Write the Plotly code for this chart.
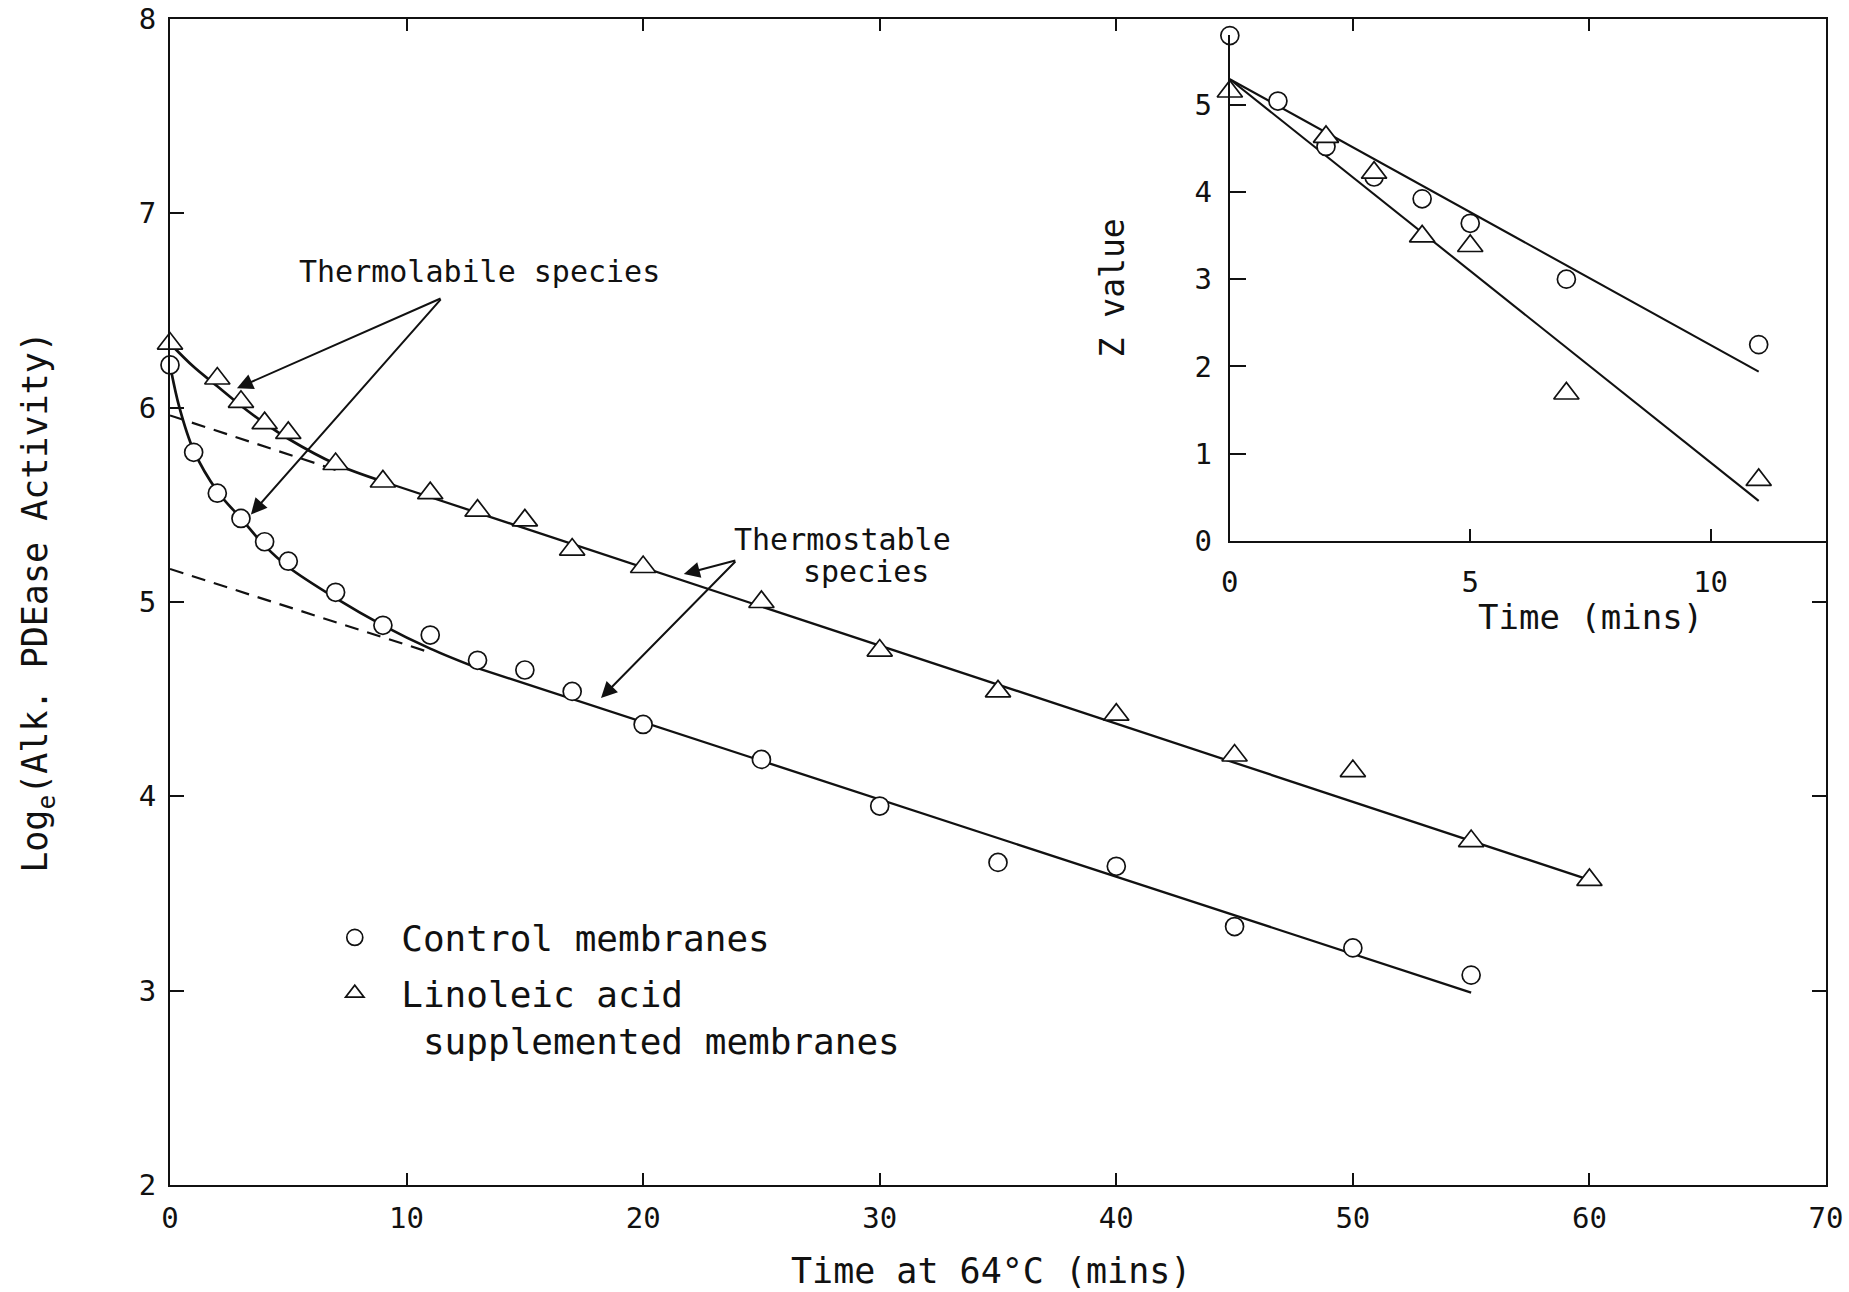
import plotly.graph_objects as go

# ---------------- data ----------------
# main panel: Loge(Alk. PDEase activity) vs time at 64 C
ctl_t = [0, 1, 2, 3, 4, 5, 7, 9, 11, 13, 15, 17, 20, 25, 30, 35, 40, 45, 50, 55]
ctl_y = [6.22, 5.77, 5.56, 5.43, 5.31, 5.21, 5.05, 4.88, 4.83, 4.70, 4.65, 4.54,
         4.37, 4.19, 3.95, 3.66, 3.64, 3.33, 3.22, 3.08]
lin_t = [0, 2, 3, 4, 5, 7, 9, 11, 13, 15, 17, 20, 25, 30, 35, 40, 45, 50, 55, 60]
lin_y = [6.33, 6.15, 6.03, 5.92, 5.87, 5.71, 5.62, 5.56, 5.47, 5.42, 5.27, 5.18,
         5.00, 4.75, 4.54, 4.42, 4.21, 4.13, 3.77, 3.57]

# fitted curves (total activity, early phase)
ctl_curve_t = [0, 0.4, 1, 2, 3, 4, 5, 7, 9, 11, 13]
ctl_curve_y = [6.22, 6.00, 5.78, 5.57, 5.43, 5.29, 5.18, 5.02, 4.88, 4.76, 4.66]
lin_curve_t = [0, 1, 2, 3, 4, 5, 7, 9]
lin_curve_y = [6.33, 6.21, 6.11, 6.01, 5.92, 5.84, 5.71, 5.62]

# thermostable straight lines (solid part) and back-extrapolation (dashed)
ctl_line_t = [13, 55]
ctl_line_y = [4.66, 2.99]
ctl_dash_t = [0, 11]
ctl_dash_y = [5.17, 4.74]
lin_line_t = [9, 60]
lin_line_y = [5.62, 3.57]
lin_dash_t = [0, 7]
lin_dash_y = [5.96, 5.68]

# inset: Z value vs time
ins_ctl_t = [0, 1, 2, 3, 4, 5, 7, 11]
ins_ctl_y = [5.79, 5.04, 4.52, 4.17, 3.92, 3.64, 3.00, 2.25]
ins_lin_t = [0, 2, 3, 4, 5, 7, 11]
ins_lin_y = [5.15, 4.63, 4.22, 3.49, 3.38, 1.69, 0.70]
ins_ctl_fit_t = [0, 11]
ins_ctl_fit_y = [5.29, 1.94]
ins_lin_fit_t = [0, 11]
ins_lin_fit_y = [5.29, 0.46]

main_xticks = [0, 10, 20, 30, 40, 50, 60, 70]
main_yticks = [2, 3, 4, 5, 6, 7, 8]
ins_xticks = [0, 5, 10]
ins_yticks = [0, 1, 2, 3, 4, 5]

FONT = "DejaVu Sans Mono"
BLACK = "#111111"

fig = go.Figure()

def line(x, y, xa="x", ya="y", dash="solid", width=2.3, shape="linear"):
    fig.add_trace(go.Scatter(x=x, y=y, mode="lines", xaxis=xa, yaxis=ya,
                             line=dict(color=BLACK, width=width, dash=dash, shape=shape),
                             showlegend=False, hoverinfo="skip"))

# main panel lines
line(ctl_dash_t, ctl_dash_y, dash="14px,9px", width=2.2)
line(lin_dash_t, lin_dash_y, dash="14px,9px", width=2.2)
line(ctl_curve_t, ctl_curve_y, width=2.7, shape="spline")
line(lin_curve_t, lin_curve_y, width=2.7, shape="spline")
line(ctl_line_t, ctl_line_y)
line(lin_line_t, lin_line_y)

circle_marker = dict(symbol="circle", size=18, color="white", line=dict(color=BLACK, width=1.7))
tri_marker = dict(symbol="triangle-up", size=22, color="white", line=dict(color=BLACK, width=1.7))

fig.add_trace(go.Scatter(x=ctl_t, y=ctl_y, mode="markers", marker=circle_marker,
                         name="Control membranes", legendgroup="ctl", cliponaxis=False))
fig.add_trace(go.Scatter(x=lin_t, y=lin_y, mode="markers", marker=tri_marker,
                         name="Linoleic acid<br>\u00a0supplemented membranes",
                         legendgroup="lin", cliponaxis=False))

# inset
line(ins_ctl_fit_t, ins_ctl_fit_y, xa="x2", ya="y2", width=2.1)
line(ins_lin_fit_t, ins_lin_fit_y, xa="x2", ya="y2", width=2.1)
fig.add_trace(go.Scatter(x=ins_ctl_t, y=ins_ctl_y, mode="markers", xaxis="x2", yaxis="y2",
                         marker=circle_marker, showlegend=False, cliponaxis=False))
fig.add_trace(go.Scatter(x=ins_lin_t, y=ins_lin_y, mode="markers", xaxis="x2", yaxis="y2",
                         marker=tri_marker, showlegend=False, cliponaxis=False))

axis_common = dict(showgrid=False, zeroline=False, showline=True, linecolor=BLACK,
                   linewidth=2, ticks="inside", tickcolor=BLACK, tickwidth=2,
                   automargin=False, ticklabeloverflow="allow",
                   tickfont=dict(family=FONT, size=29, color=BLACK))

fig.update_layout(
    width=1849, height=1292,
    margin=dict(l=170, r=23, t=19, b=107),
    paper_bgcolor="white", plot_bgcolor="white",
    font=dict(family=FONT, color=BLACK),
    xaxis=dict(**axis_common, range=[0, 70], tickvals=main_xticks, ticklen=12,
               mirror="ticks", ticklabelstandoff=6),
    yaxis=dict(**axis_common, range=[2, 8], tickvals=main_yticks, ticklen=14,
               mirror="ticks", ticklabelstandoff=6,
               title=dict(text="Log<sub>e</sub>(Alk. PDEase Activity)",
                          font=dict(family=FONT, size=35), standoff=80)),
    xaxis2=dict(**axis_common, domain=[0.640, 1.0], anchor="y2", range=[0, 12.4],
                tickvals=ins_xticks, ticklen=12, ticklabelstandoff=14),
    yaxis2=dict(**axis_common, domain=[0.5523, 0.9865], anchor="x2", range=[0, 5.8],
                tickvals=ins_yticks, ticklen=16, ticklabelstandoff=10,
                title=dict(text="Z value", font=dict(family=FONT, size=33), standoff=60)),
    legend=dict(x=0.0835, y=0.238, xanchor="left", yanchor="top", valign="top",
                font=dict(family=FONT, size=36, color=BLACK), traceorder="grouped",
                bgcolor="rgba(0,0,0,0)", tracegroupgap=6, itemwidth=83),
)

# main x title
fig.add_annotation(text="Time at 64°C (mins)", xref="paper", yref="paper",
                   x=0.496, y=-0.0738, xanchor="center", yanchor="middle",
                   showarrow=False, font=dict(family=FONT, size=35, color=BLACK))

# inset x title
fig.add_annotation(text="Time (mins)", xref="x2", yref="paper", x=7.5, y=0.487,
                   showarrow=False, font=dict(family=FONT, size=34, color=BLACK))

# species labels
fig.add_annotation(text="Thermolabile species", x=13.1, y=6.70, showarrow=False,
                   font=dict(family=FONT, size=30, color=BLACK))
fig.add_annotation(text="Thermostable", x=28.44, y=5.32, showarrow=False,
                   font=dict(family=FONT, size=30, color=BLACK))
fig.add_annotation(text="species", x=29.42, y=5.155, showarrow=False,
                   font=dict(family=FONT, size=30, color=BLACK))

# arrows (tip at x,y ; tail at ax,ay)
arrows = [
    (2.83, 6.10, 11.5, 6.565),
    (3.42, 5.45, 11.5, 6.565),
    (21.72, 5.144, 23.96, 5.216),
    (18.22, 4.506, 23.96, 5.216),
]
for (x, y, ax, ay) in arrows:
    fig.add_annotation(x=x, y=y, ax=ax, ay=ay, xref="x", yref="y", axref="x", ayref="y",
                       text="", showarrow=True, arrowhead=2, arrowsize=1.6,
                       arrowwidth=2, arrowcolor=BLACK)

# remove the default 8 px body margin so the figure fills the window exactly
fig.write_html("out.html", config={"displayModeBar": False},
               post_script="document.body.style.margin='0';document.body.style.overflow='hidden';")
